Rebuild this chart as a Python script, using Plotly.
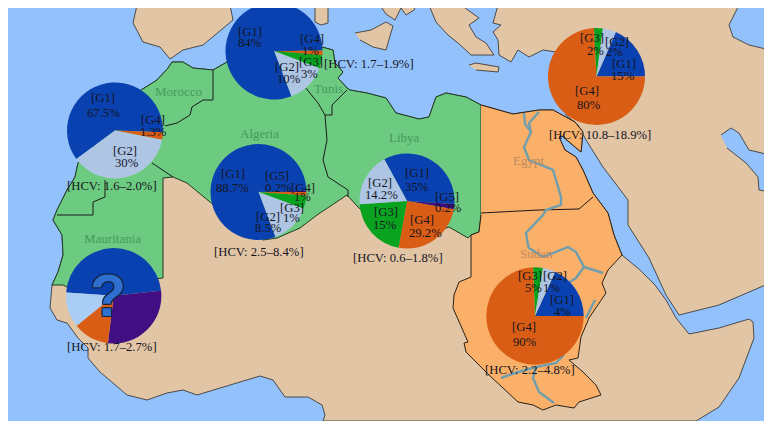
import plotly.graph_objects as go

# ---------- pie data: slice shares read from the drawn wedges (degrees of arc) ----------
MOROCCO_GENOTYPES = ["G1", "G4", "G2"]
MOROCCO_ARCS = [218.5, 9, 132.5]
TUNIS_GENOTYPES = ["G4", "G3", "G2", "G1"]
TUNIS_ARCS = [6, 15.7, 48.3, 290]
ALGERIA_GENOTYPES = ["G5", "G4", "G3", "G2", "G1"]
ALGERIA_ARCS = [1.5, 4.5, 16, 49, 289]
LIBYA_GENOTYPES = ["G1", "G5", "G4", "G3", "G2"]
LIBYA_ARCS = [122.3, 6.3, 90.3, 75.7, 65.4]
EGYPT_GENOTYPES = ["G1", "G4", "G3", "G2"]
EGYPT_ARCS = [66.5, 267, 10.6, 15.9]
SUDAN_GENOTYPES = ["G1", "G4", "G3", "G2"]
SUDAN_ARCS = [65.4, 268, 11.4, 15.2]
MAURITANIA_GENOTYPES = ["G1", "G5", "G4", "G2b"]
MAURITANIA_ARCS = [170, 103, 44, 43]

COLORS = {"G1": "#0a41b0", "G2": "#aec6e4", "G2b": "#a9cdf5", "G3": "#0aa31f",
          "G4": "#d95d15", "G5": "#410f82"}

# (genotypes, arcs, centre x, centre y, radius, rotation)
PIES = [
    (MOROCCO_GENOTYPES, MOROCCO_ARCS, 115, 130.5, 48, 233.5),
    (TUNIS_GENOTYPES, TUNIS_ARCS, 274, 51, 48.5, 89),
    (ALGERIA_GENOTYPES, ALGERIA_ARCS, 258.5, 192, 48, 88.5),
    (LIBYA_GENOTYPES, LIBYA_ARCS, 407, 201, 47.5, 331.4),
    (EGYPT_GENOTYPES, EGYPT_ARCS, 596.5, 76.5, 48.5, 23.5),
    (SUDAN_GENOTYPES, SUDAN_ARCS, 535, 316, 48.7, 24.6),
    (MAURITANIA_GENOTYPES, MAURITANIA_ARCS, 113.7, 295.8, 47.7, 274),
]

# ---------- map outlines ----------
AFRICA_X = [138,157,168,172,183,193,213,227,250,322,333,335,343,338,347,350,367,386,396,419,429,436,446,466,481,499,513,539,553,564,575,583,581,562,559,565,576,583,593,608,614,622,640,655,666,676,689,719,749,753,754,739,719,696,323,325,322,308,285,273,260,240,213,197,183,167,147,127,113,100,88,88,78,67,57,50,52,58,63,62,53,57,67,75,78,100,125]
AFRICA_Y = [92,80,68,62,62,68,70,62,55,47,50,63,72,78,88,90,93,98,113,119,117,97,93,97,105,110,114,110,110,116,122,132,152,136,137,150,157,170,193,213,235,255,270,285,300,318,334,328,319,322,338,378,407,421,421,415,405,397,397,380,376,382,390,395,390,393,400,395,383,372,358,348,338,323,320,308,285,272,255,235,220,210,190,177,163,140,110]

GREEN_X = [138,157,168,172,183,193,213,227,250,322,333,335,343,338,347,350,367,386,396,419,429,436,446,466,481,481,479,471,468,449,400,358,347,317,300,277,263,240,210,187,173,163,163,67,63,52,58,63,62,53,57,67,75,78,100,125]
GREEN_Y = [92,80,68,62,62,68,70,62,55,47,50,63,72,78,88,90,93,98,113,119,117,97,93,97,105,215,232,235,238,227,245,207,195,215,228,238,240,225,202,183,177,178,278,287,285,285,272,255,235,220,210,190,177,163,140,110]

ORANGE_X = [481,499,513,539,553,564,575,583,581,562,559,565,576,583,593,608,614,622,608,602,606,589,581,578,569,583,596,601,579,574,556,543,533,518,503,489,466,464,468,453,454,459,471,471,479,481]
ORANGE_Y = [105,110,114,110,110,116,122,132,152,136,137,150,157,170,193,213,235,255,270,283,293,318,337,358,360,372,385,395,402,408,405,410,405,402,388,375,352,343,342,308,295,282,277,235,232,215]

ASIA_X = [498,493,501,493,498,499,511,518,529,543,556,562,566,578,586,603,628,628,649,666,679,719,770,770]
ASIA_Y = [5,23,25,32,40,55,62,50,57,50,52,85,115,125,140,167,200,225,258,295,315,305,283,5]

SPAIN_X = [137,133,143,160,170,183,203,217,233,230]
SPAIN_Y = [5,23,42,47,59,50,45,33,20,5]
SARDINIA_X = [315,315,321,328,328]
SARDINIA_Y = [5,22,25,23,5]
SICILY_X = [355,371,386,393,390,386,373,360]
SICILY_Y = [33,30,22,26,36,50,47,40]
ITALY_X = [380,386,395,401,406,414,416,380]
ITALY_Y = [5,14,20,8,15,10,5,5]
BALKANS_X = [429,436,448,458,471,483,494,486,476,469,479,461]
BALKANS_Y = [5,22,35,43,55,55,55,43,37,25,18,5]
CRETE_X = [469,476,499,498,476]
CRETE_Y = [65,63,67,72,70]

CASPIAN_X = [739,729,733,749,770,770]
CASPIAN_Y = [5,25,37,45,50,5]
GULF_X = [721,731,739,749,770,770,759,758,746,727]
GULF_Y = [135,128,133,150,155,192,190,177,163,148]

BORDERS = [
    ([213,213,203,192,190,177,165], [70,100,100,107,115,123,126]),
    ([152,173], [163,177]),
    ([57,93,93,105,105], [215,215,202,197,180]),
    ([305,318,325,332,332,347], [87,103,115,115,105,90]),
    ([325,327,323,328,348,348], [115,140,160,177,190,197]),
    ([481,539,579,593], [213,210,209,197]),
]

NILE_X = [539,529,531,524,529,553,556,561,561,546,543,526,528,529,543,556,568,576,584,576,568]
NILE_Y = [112,123,132,147,160,170,180,197,205,210,215,233,245,248,257,252,247,252,267,278,283]
NILE_DELTA_X = [524,525,531]
NILE_DELTA_Y = [113,124,132]
ATBARA_X = [584,603]
ATBARA_Y = [267,273]
BLUE_NILE_X = [586,595]
BLUE_NILE_Y = [318,300]
WHITE_NILE_X = [564,556,536,533,539,554]
WHITE_NILE_Y = [355,363,367,378,392,403]
GHAZAL_X = [536,518,501]
GHAZAL_Y = [367,372,378]

# ---------- text ----------
BLACK_LABELS = [
    ("[G1]",103,98),("67.5%",103,113),("[G4]",153,120),("1.3%",153,132),("[G2]",125,151),("30%",127,163),
    ("[HCV: 1.6–2.0%]",112,186),
    ("[G1]",250,32),("84%",250,43),("[G4]",312,39),("1%",310,51),("[G3]",311,62),("3%",309,74),
    ("[G2]",287,67),("10%",289,79),("[HCV: 1.7–1.9%]",369,64),
    ("[G1]",233,174),("88.7%",232,188),("[G5]",277,176),("0.2%",278,188),("[G4]",303,188),("1%",302,197),
    ("[G3]",292,208),("1%",291,218),("[G2]",268,217),("8.5%",268,228),("[HCV: 2.5–8.4%]",259,252),
    ("[G1]",417,173),("35%",417,187),("[G2]",380,183),("14.2%",381,195),("[G5]",447,197),("0.2%",448,208),
    ("[G3]",386,212),("15%",385,225),("[G4]",422,220),("29.2%",425,233),("[HCV: 0.6–1.8%]",398,258),
    ("[G3]",592,38),("2%",595,51),("[G2]",617,42),("2%",614,52),("[G1]",624,64),("15%",623,76),
    ("[G4]",587,91),("80%",589,105),("[HCV: 10.8–18.9%]",600,135),
    ("[G3]",530,276),("5%",533,288),("[G2]",555,276),("1%",551,288),("[G1]",562,300),("4%",562,312),
    ("[G4]",524,327),("90%",525,342),("[HCV: 2.2–4.8%]",530,370),
    ("[HCV: 1.7–2.7%]",112,347),
]
GREEN_NAMES = [("Morocco",178,91),("Tunis",328,88),("Algeria",259,133),("Libya",404,137),("Mauritania",112,238)]
ORANGE_NAMES = [("Egypt",528,160),("Sudan",536,253)]

W, H = 772, 430
LEFT, TOP, RIGHT, BOTTOM = 8, 8, 764, 421
fig = go.Figure()

def land(xs, ys, fill, line="#4a4a4a", width=1):
    fig.add_trace(go.Scatter(x=xs, y=ys, mode="lines", fill="toself", fillcolor=fill,
                             line=dict(color=line, width=width), hoverinfo="skip", showlegend=False))

def river(xs, ys, width=2.4):
    fig.add_trace(go.Scatter(x=xs, y=ys, mode="lines", line=dict(color="#6f9fae", width=width),
                             hoverinfo="skip", showlegend=False))

TAN, GREEN, ORANGE, SEA = "#e2c5a5", "#6ccb80", "#fbb069", "#93c1fb"
for xs, ys in [(SPAIN_X, SPAIN_Y), (SARDINIA_X, SARDINIA_Y), (SICILY_X, SICILY_Y), (ITALY_X, ITALY_Y),
               (BALKANS_X, BALKANS_Y), (CRETE_X, CRETE_Y), (ASIA_X, ASIA_Y), (AFRICA_X, AFRICA_Y)]:
    land(xs, ys, TAN)
land(CASPIAN_X, CASPIAN_Y, SEA)
land(GULF_X, GULF_Y, SEA)
land(GREEN_X, GREEN_Y, GREEN, "#1d3a22")
land(ORANGE_X, ORANGE_Y, ORANGE, "#2b2017")
for xs, ys in BORDERS:
    fig.add_trace(go.Scatter(x=xs, y=ys, mode="lines", line=dict(color="#1a1a1a", width=1),
                             hoverinfo="skip", showlegend=False))
for xs, ys in [(NILE_X, NILE_Y), (NILE_DELTA_X, NILE_DELTA_Y), (ATBARA_X, ATBARA_Y), (BLUE_NILE_X, BLUE_NILE_Y),
               (WHITE_NILE_X, WHITE_NILE_Y), (GHAZAL_X, GHAZAL_Y)]:
    river(xs, ys)

for genotypes, arcs, cx, cy, r, rot in PIES:
    fig.add_trace(go.Pie(
        labels=genotypes, values=arcs, sort=False, direction="clockwise", rotation=rot,
        textinfo="none", hoverinfo="skip", showlegend=False,
        marker=dict(colors=[COLORS[g] for g in genotypes], line=dict(width=0)),
        domain=dict(x=[(cx - r) / W, (cx + r) / W], y=[1 - (cy + r) / H, 1 - (cy - r) / H]),
    ))

def label(text, x, y, color, size=12.7):
    fig.add_annotation(x=x, y=y, xref="x", yref="y", text=text, showarrow=False,
                       font=dict(family="Liberation Serif", size=size, color=color),
                       xanchor="center", yanchor="middle", borderpad=0)

for t, x, y in BLACK_LABELS:
    label(t, x, y, "#15151f")
for t, x, y in GREEN_NAMES:
    label(t, x, y, "#47995c", 13)
for t, x, y in ORANGE_NAMES:
    label(t, x, y, "#bd8a5c", 13)

fig.add_annotation(x=108, y=296, xref="x", yref="y", text="<b>?</b>", showarrow=False,
                   font=dict(family="Liberation Sans", size=59, color="#2f6fd0",
                             shadow="-1px -1px 0 #12233f, 1px -1px 0 #12233f, -1px 1px 0 #12233f, 1px 1px 0 #12233f"))

frame = [(0, 0, W, TOP), (0, BOTTOM, W, H), (0, 0, LEFT, H), (RIGHT, 0, W, H)]
fig.update_layout(
    width=W, height=H, margin=dict(l=0, r=0, t=0, b=0), showlegend=False,
    paper_bgcolor="white", plot_bgcolor=SEA,
    xaxis=dict(range=[0, W], visible=False, fixedrange=True),
    yaxis=dict(range=[H, 0], visible=False, fixedrange=True),
    shapes=[dict(type="rect", xref="x", yref="y", x0=a, y0=b, x1=c, y1=d, fillcolor="white",
                 line=dict(width=0), layer="above") for a, b, c, d in frame],
)
fig.write_html("out.html", config={"displayModeBar": False},
               post_script="document.body.style.margin='0';")
